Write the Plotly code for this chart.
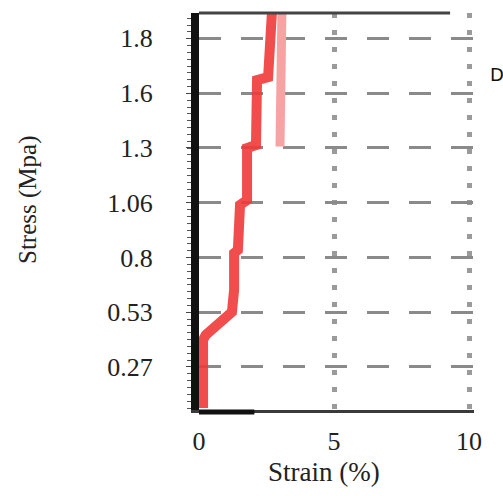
import plotly.graph_objects as go

# Data
strain_main = [0.15, 0.15, 0.25, 0.78, 1.22, 1.30, 1.30, 1.44, 1.52, 1.78, 1.78, 2.11, 2.15, 2.56, 2.70]
stress_main = [0.067, 0.398, 0.422, 0.486, 0.534, 0.641, 0.821, 0.836, 1.055, 1.079, 1.332, 1.347, 1.663, 1.678, 1.99]
strain_b = [3.0, 3.07]
stress_b = [1.34, 1.99]

y_tickvals = [0.2667, 0.5333, 0.8, 1.0667, 1.3333, 1.6, 1.8667]
y_ticktext = ["0.27", "0.53", "0.8", "1.06", "1.3", "1.6", "1.8"]
x_tickvals = [0, 5, 10]
x_ticktext = ["0", "5", "10"]

serif = "Liberation Serif, Times New Roman, serif"

fig = go.Figure()
fig.add_trace(go.Scatter(x=strain_b, y=stress_b, mode="lines",
                         line=dict(color="#f7a3a3", width=9), showlegend=False))
fig.add_trace(go.Scatter(x=strain_main, y=stress_main, mode="lines",
                         line=dict(color="#f03a3a", width=10, shape="linear"),
                         opacity=0.9, showlegend=False))

fig.update_layout(
    width=503, height=496,
    margin=dict(l=199, r=29, t=13, b=86),
    plot_bgcolor="white", paper_bgcolor="white",
    showlegend=False,
    xaxis=dict(range=[0, 10.185], tickvals=x_tickvals, ticktext=x_ticktext,
               showline=True, linecolor="#3a3a3a", linewidth=3,
               showgrid=True, gridcolor="#9a9a9a", gridwidth=5, griddash="5px,12px",
               zeroline=False, ticks="", ticklabelstandoff=6,
               tickfont=dict(family=serif, size=26, color="#222")),
    yaxis=dict(range=[0.057, 1.99], tickvals=y_tickvals, ticktext=y_ticktext,
               showline=True, linecolor="#111", linewidth=8,
               showgrid=True, gridcolor="#8a8a8a", gridwidth=3, griddash="22px,20px",
               zeroline=False, ticks="outside", ticklen=5, tickcolor="#444",
               ticklabelstandoff=28,
               minor=dict(ticks="outside", ticklen=4, tickcolor="#555", tick0=0, dtick=0.0333, showgrid=False),
               tickfont=dict(family=serif, size=26, color="#222")),
    shapes=[
        dict(type="line", xref="x", yref="paper", x0=0, x1=9.3, y0=1, y1=1,
             line=dict(color="#444", width=3)),
        dict(type="line", xref="x", yref="paper", x0=0, x1=2.05, y0=-0.005, y1=-0.005,
             line=dict(color="#111", width=5)),
    ],
    annotations=[
        dict(text="Strain (%)", xref="paper", yref="paper", x=(324-199)/275, y=-(472-410)/397,
             xanchor="center", yanchor="middle", showarrow=False,
             font=dict(family=serif, size=27, color="#222")),
        dict(text="Stress (Mpa)", xref="paper", yref="paper", x=(28-199)/275, y=(410-200)/397,
             xanchor="center", yanchor="middle", showarrow=False, textangle=-90,
             font=dict(family=serif, size=25, color="#222")),
        dict(text="D", xref="paper", yref="paper", x=(488-199)/275, y=(410-74)/397,
             xanchor="left", yanchor="middle", showarrow=False,
             font=dict(family="DejaVu Sans, sans-serif", size=18, color="#111")),
    ],
)

fig.write_html("out.html")
